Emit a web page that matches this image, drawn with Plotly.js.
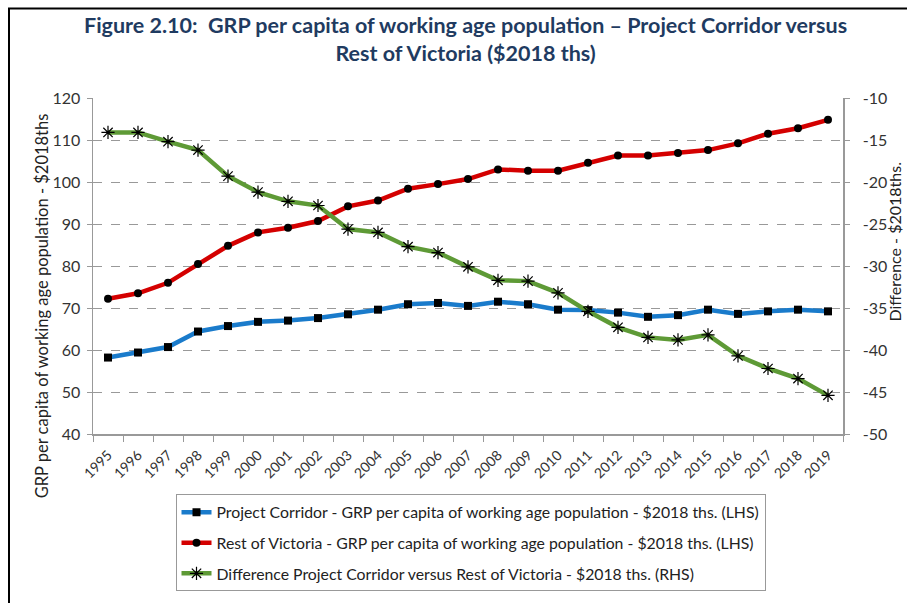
<!DOCTYPE html>
<html>
<head>
<meta charset="utf-8">
<script src="https://cdn.plot.ly/plotly-3.0.1.min.js"></script>
<style>html,body{margin:0;padding:0;background:#fff;}#chart{width:907px;height:603px;}</style>
</head>
<body>
<div id="chart"></div>
<script>
const years = ["1995","1996","1997","1998","1999","2000","2001","2002","2003","2004","2005","2006","2007","2008","2009","2010","2011","2012","2013","2014","2015","2016","2017","2018","2019"];
const projectCorridor = [58.2,59.4,60.7,64.4,65.7,66.7,67.0,67.6,68.5,69.6,70.9,71.2,70.5,71.5,70.9,69.6,69.5,68.9,67.9,68.3,69.6,68.6,69.2,69.6,69.2];
const restOfVictoria = [72.2,73.5,76.0,80.5,84.8,88.0,89.1,90.7,94.2,95.6,98.4,99.5,100.7,103.0,102.7,102.7,104.6,106.3,106.3,106.9,107.6,109.2,111.5,112.8,114.8];
const difference = [-14.1,-14.1,-15.2,-16.2,-19.3,-21.2,-22.3,-22.8,-25.6,-26.0,-27.7,-28.4,-30.1,-31.7,-31.8,-33.2,-35.4,-37.3,-38.5,-38.8,-38.2,-40.7,-42.2,-43.4,-45.4];
const rightTickVals = [-10,-15,-20,-25,-30,-35,-40,-45,-50];
const rightTickText = ["-10","-15","-20","-25","-30","-35","-40","-45","-50"];
const seriesNames = [
  "Project Corridor - GRP per capita of working age population - $2018 ths. (LHS)",
  "Rest of Victoria - GRP per capita of working age population - $2018 ths. (LHS)",
  "Difference Project Corridor versus Rest of Victoria - $2018 ths. (RHS)"
];
const titleText = "Figure 2.10:  GRP per capita of working age population \u2013 Project Corridor versus<br>Rest of Victoria ($2018 ths)";
const leftTitle = "GRP per capita of working age population - $2018ths";
const rightTitle = "Difference - $2018ths.";

const FONT = "Lato, 'Open Sans', sans-serif";

const traces = [
  {x: years, y: projectCorridor, name: seriesNames[0], type: "scatter", mode: "lines+markers",
   legendgroup: "a",
   line: {color: "#1A7BCB", width: 4.5}, marker: {symbol: "square", size: 8, color: "#000"}},
  {x: years, y: restOfVictoria, name: seriesNames[1], type: "scatter", mode: "lines+markers",
   legendgroup: "b",
   line: {color: "#D40000", width: 4.5}, marker: {symbol: "circle", size: 8, color: "#000"}},
  {x: years, y: difference, name: seriesNames[2], type: "scatter", mode: "lines+markers", yaxis: "y2",
   legendgroup: "c",
   line: {color: "#5E9A36", width: 4.5}, marker: {symbol: "asterisk-open", size: 11, color: "#000", line: {color: "#000", width: 1.2}}}
];

const layout = {
  width: 907, height: 603,
  margin: {l: 93, r: 64, t: 98, b: 163},
  paper_bgcolor: "#fff", plot_bgcolor: "#fff",
  font: {family: FONT, size: 14, color: "#333"},
  showlegend: true,
  legend: {
    x: 0.11, y: -0.18, xanchor: "left", yanchor: "top",
    bordercolor: "#999", borderwidth: 1, bgcolor: "#fff",
    font: {family: FONT, size: 15.8, color: "#222"},
    tracegroupgap: 7, traceorder: "grouped"
  },
  xaxis: {
    type: "category", range: [-0.5, 24.5], autorange: false, automargin: false, tickangle: -45, ticks: "outside", ticklen: 6, tickcolor: "#999",
    tickson: "boundaries", showline: true, linecolor: "#999", linewidth: 1.5, ticklabelstandoff: 6,
    showgrid: false, zeroline: false, tickfont: {family: FONT, size: 14, color: "#333"}
  },
  yaxis: {
    range: [40, 120], dtick: 10, ticks: "outside", ticklen: 5, tickcolor: "#999", automargin: false,
    showline: true, linecolor: "#999", linewidth: 1.5, ticklabelstandoff: 3,
    showgrid: true, gridcolor: "#999", griddash: "dash", gridwidth: 1, zeroline: false,
    tickfont: {family: FONT, size: 16, color: "#333"}
  },
  yaxis2: {
    overlaying: "y", side: "right", range: [-50, -10], tickmode: "array", tickvals: rightTickVals, ticktext: rightTickText,
    ticks: "outside", ticklen: 5, tickcolor: "#999", ticklabelstandoff: 10, automargin: false,
    showline: true, linecolor: "#999", linewidth: 1.5, showgrid: false, zeroline: false,
    tickfont: {family: FONT, size: 16, color: "#333"}
  },
  annotations: [
    {text: titleText, xref: "paper", yref: "paper", x: 0.496, y: 1.175, xanchor: "center", yanchor: "middle",
     showarrow: false, font: {family: FONT, size: 21.5, color: "#1F3B61", weight: "bold"}, align: "center"},
    {text: leftTitle, xref: "paper", yref: "paper", x: -0.068, y: 0.38, xanchor: "center", yanchor: "middle",
     textangle: -90, showarrow: false, font: {family: FONT, size: 16.5, color: "#222"}},
    {text: rightTitle, xref: "paper", yref: "paper", x: 1.068, y: 0.57, xanchor: "center", yanchor: "middle",
     textangle: -90, showarrow: false, font: {family: FONT, size: 16, color: "#222"}}
  ],
  shapes: [
    {type: "rect", xref: "paper", yref: "paper", x0: -0.112, x1: 1.2, y0: -0.6, y1: 1.266,
     line: {color: "#000", width: 2}, fillcolor: "rgba(0,0,0,0)", layer: "below"}
  ]
};

Plotly.newPlot("chart", traces, layout, {displayModeBar: false, staticPlot: true});
</script>
</body>
</html>
